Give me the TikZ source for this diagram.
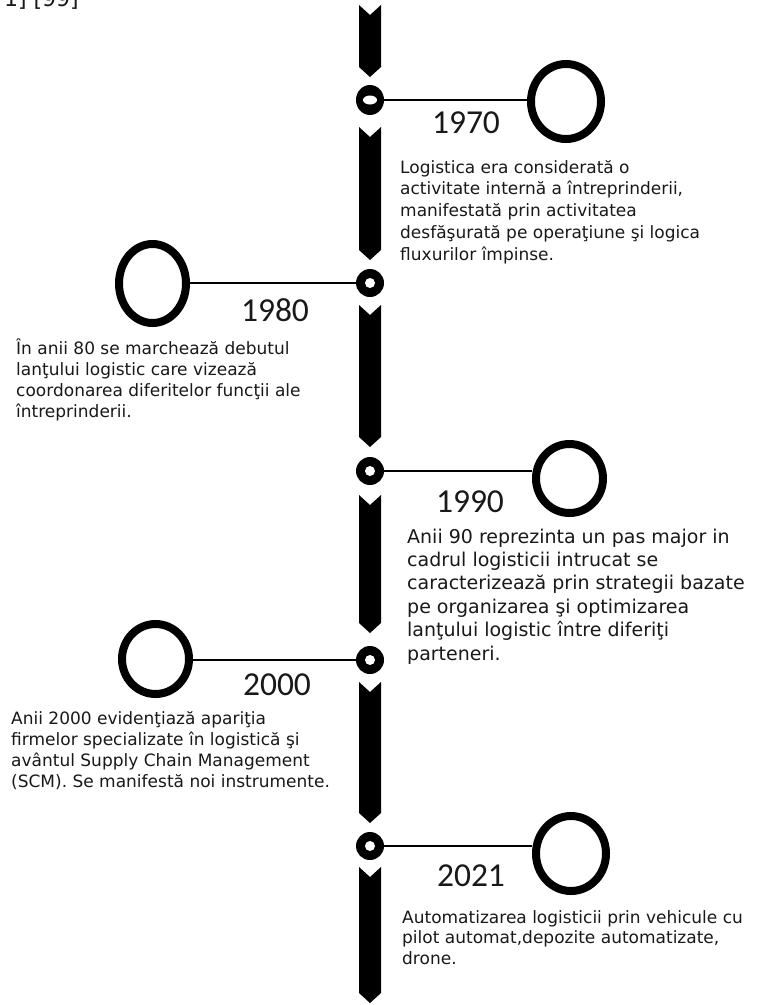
\documentclass[tikz,border=0pt]{standalone}
\usepackage{fontspec}
\setmainfont{DejaVu Sans}
\newfontfamily\yearfont{Carlito}
\usetikzlibrary{shapes.geometric}
\definecolor{ink}{RGB}{25,25,25}

\begin{document}
\begin{tikzpicture}[x=1pt,y=-1pt,
  spine/.style={fill=black},
  bead/.style={circle,fill=black,inner sep=0pt,minimum size=28pt,
    path picture={\fill[white] (path picture bounding box.center) circle (5pt);}},
  flatbead/.style={ellipse,fill=black,inner sep=0pt,minimum width=28pt,minimum height=30pt,
    path picture={\fill[white] (path picture bounding box.center) ellipse [x radius=7pt,y radius=4.5pt];}},
  bubble/.style={ellipse,draw=black,line width=8pt,inner sep=0pt},
  link/.style={draw=black,line width=2.7pt},
  year/.style={font=\yearfont\fontsize{33.5}{40}\selectfont,text=ink,anchor=base,inner sep=0pt},
  % multi-line notes are placed by the baseline of their last line
  note/.style={align=left,anchor=base west,inner sep=0pt,text=ink}]

% page
\fill[white] (0,0) rectangle (768,1005);
\useasboundingbox (0,0) rectangle (768,1005);

% reference mark cut by the top edge
\node[font=\fontsize{22}{26}\selectfont,anchor=base east,inner sep=0pt,text=ink] (refmark) at (79,6.5) {1] [99]};

% timeline spine: chevron segments
\foreach \t/\b in {5/77,127/260,305/447,495/633,682/823,867/1003}
  \fill[spine] (359,\t) -- (370,\t+10) -- (381,\t) -- (381,\b-10) -- (370,\b) -- (359,\b-10) -- cycle;

% beads on the spine
\node[flatbead] (r70) at (370,100) {};
\node[bead] (r80) at (370,283) {};
\node[bead] (r90) at (370,471) {};
\node[bead] (r00) at (370,660) {};
\node[bead] (r21) at (370,846) {};

% open circles
\node[bubble,minimum width=70pt,minimum height=75pt] (c70) at (566,101.5) {};
\node[bubble,minimum width=67pt,minimum height=79pt] (c80) at (152.5,283.5) {};
\node[bubble,minimum width=67pt,minimum height=69pt] (c90) at (569.5,478.5) {};
\node[bubble,minimum width=67pt,minimum height=70pt] (c00) at (155.5,659) {};
\node[bubble,minimum width=70pt,minimum height=75pt] (c21) at (571,853.5) {};

% connectors
\draw[link] (r70.east) -- (c70.west |- r70.east);
\draw[link] (c80.east |- r80.west) -- (r80.west);
\draw[link] (r90.east) -- (c90.west |- r90.east);
\draw[link] (c00.east |- r00.west) -- (r00.west);
\draw[link] (r21.east) -- (c21.west |- r21.east);

% years
\node[year] (y70) at (466,133) {1970};
\node[year] (y80) at (275,321) {1980};
\node[year] (y90) at (470,512) {1990};
\node[year] (y00) at (277,695) {2000};
\node[year] (y21) at (471,886) {2021};

% descriptions
\node[note,font=\fontsize{17}{21.7}\selectfont] (t70) at (400,260)
  {Logistica era considerată o\\activitate internă a întreprinderii,\\manifestată prin activitatea\\desfăşurată pe operaţiune şi logica\\fluxurilor împinse.};
\node[note,font=\fontsize{17}{21}\selectfont] (t80) at (16,417)
  {În anii 80 se marchează debutul\\lanţului logistic care vizează\\coordonarea diferitelor funcţii ale\\întreprinderii.};
\node[note,font=\fontsize{19}{23.4}\selectfont] (t90) at (407,660)
  {Anii 90 reprezinta un pas major in\\cadrul logisticii intrucat se\\caracterizează prin strategii bazate\\pe organizarea şi optimizarea\\lanţului logistic între diferiţi\\parteneri.};
\node[note,font=\fontsize{17}{21}\selectfont] (t00) at (11,787)
  {Anii 2000 evidenţiază apariţia\\firmelor specializate în logistică şi\\avântul Supply Chain Management\\(SCM). Se manifestă noi instrumente.};
\node[note,font=\fontsize{17}{20.5}\selectfont] (t21) at (402,964)
  {Automatizarea logisticii prin vehicule cu\\pilot automat,depozite automatizate,\\drone.};
\end{tikzpicture}
\end{document}
